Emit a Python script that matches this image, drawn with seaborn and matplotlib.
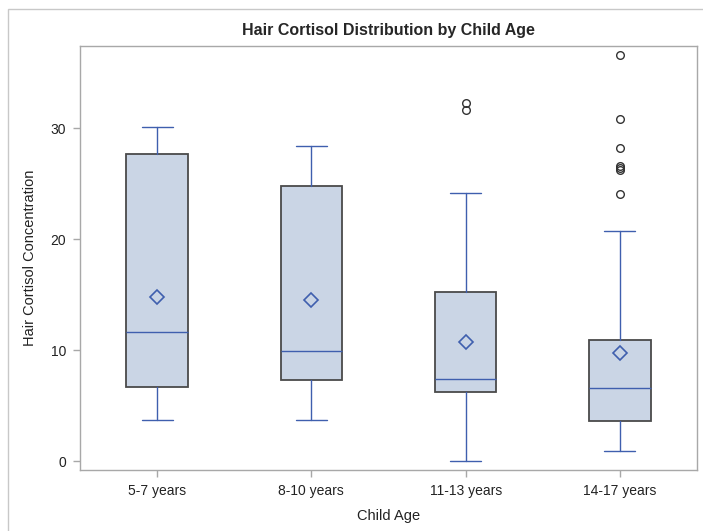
import matplotlib
matplotlib.use("Agg")
import matplotlib.pyplot as plt
import matplotlib.patches as mpatches
import seaborn as sns

# summary statistics
groups = ["5-7 years", "8-10 years", "11-13 years", "14-17 years"]
whislo = [3.7, 3.7, 0.0, 0.9]
q1 = [6.7, 7.3, 6.2, 3.6]
med = [11.6, 9.9, 7.4, 6.6]
q3 = [27.7, 24.8, 15.2, 10.9]
whishi = [30.1, 28.4, 24.2, 20.7]
means = [14.8, 14.5, 10.7, 9.7]
fliers = [[], [], [32.3, 31.6], [36.6, 30.8, 28.2, 26.6, 26.4, 26.2, 24.1]]

sns.set_style("white")
plt.rcParams['font.family'] = ['Liberation Sans', 'DejaVu Sans']

blue = '#3F5FAE'
fill = '#CAD5E5'
edge = '#4A4A4A'
grey = '#A8A8A8'

stats = []
for i, g in enumerate(groups):
    stats.append(dict(label=g, whislo=whislo[i], q1=q1[i], med=med[i], q3=q3[i],
                      whishi=whishi[i], mean=means[i], fliers=fliers[i]))

fig = plt.figure(figsize=(7.03, 5.31), dpi=100)
ax = fig.add_axes([80 / 703, 1 - 470 / 531, 617 / 703, 424 / 531])

ax.bxp(stats, positions=range(len(groups)), widths=0.4, showmeans=True, patch_artist=True,
       boxprops=dict(facecolor=fill, edgecolor=edge, linewidth=1.3),
       whiskerprops=dict(color=blue, linewidth=1.0),
       capprops=dict(color=blue, linewidth=1.0),
       medianprops=dict(color=blue, linewidth=1.0),
       meanprops=dict(marker='D', markerfacecolor='none', markeredgecolor=blue,
                      markersize=7, markeredgewidth=1.2),
       flierprops=dict(marker='o', markerfacecolor='none', markeredgecolor='#333333',
                       markersize=5.5, markeredgewidth=1.0))

ax.set_xlim(-0.5, 3.5)
ax.set_ylim(-0.8, 37.4)
ax.set_yticks([0, 10, 20, 30])
ax.set_xticks(range(len(groups)))
ax.set_xticklabels(groups)

for s in ax.spines.values():
    s.set_color(grey)
    s.set_linewidth(1.0)
ax.tick_params(axis='both', length=5, width=1, color=grey, labelsize=10, labelcolor='#222222',
               direction='out', bottom=True, left=True, pad=5)

ax.set_xlabel("Child Age", fontsize=10.5, color='#222222', labelpad=8)
ax.set_ylabel("Hair Cortisol Concentration", fontsize=10.5, color='#222222', labelpad=10)
ax.set_title("Hair Cortisol Distribution by Child Age", fontsize=11.5, fontweight='bold', pad=8)

# outer border like the SAS graph frame
fig.patches.append(mpatches.Rectangle((8 / 703, -0.1), 1.2, 1.1 - 9 / 531, transform=fig.transFigure,
                                      fill=False, edgecolor='#C8C8C8', linewidth=1.0))

fig.savefig("out.png", dpi=100)
